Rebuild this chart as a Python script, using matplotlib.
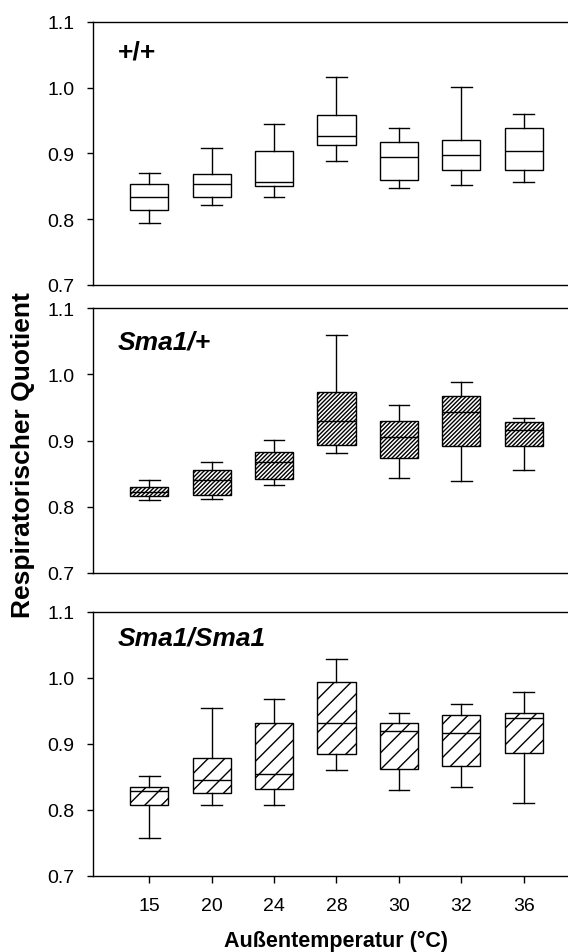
import matplotlib
matplotlib.use("Agg")
import matplotlib.pyplot as plt

plt.rcParams['font.family'] = ['Liberation Sans', 'DejaVu Sans']
plt.rcParams['hatch.linewidth'] = 1.0

temps = ['15', '20', '24', '28', '30', '32', '36']
genotypes = ['+/+', 'Sma1/+', 'Sma1/Sma1']

# wild type +/+
wt_low = [0.794, 0.821, 0.833, 0.889, 0.848, 0.852, 0.856]
wt_q1 = [0.814, 0.834, 0.850, 0.912, 0.859, 0.874, 0.874]
wt_med = [0.834, 0.853, 0.857, 0.926, 0.895, 0.897, 0.904]
wt_q3 = [0.853, 0.868, 0.904, 0.959, 0.918, 0.921, 0.938]
wt_high = [0.870, 0.908, 0.945, 1.016, 0.939, 1.001, 0.960]

# heterozygous Sma1/+
het_low = [0.810, 0.812, 0.832, 0.881, 0.843, 0.838, 0.856]
het_q1 = [0.816, 0.817, 0.842, 0.893, 0.873, 0.892, 0.892]
het_med = [0.822, 0.840, 0.867, 0.929, 0.905, 0.943, 0.916]
het_q3 = [0.829, 0.855, 0.882, 0.973, 0.930, 0.968, 0.928]
het_high = [0.840, 0.868, 0.901, 1.059, 0.953, 0.988, 0.934]

# homozygous Sma1/Sma1
hom_low = [0.758, 0.808, 0.807, 0.860, 0.830, 0.835, 0.811]
hom_q1 = [0.808, 0.826, 0.831, 0.885, 0.862, 0.866, 0.886]
hom_med = [0.828, 0.846, 0.854, 0.931, 0.919, 0.916, 0.939]
hom_q3 = [0.834, 0.878, 0.931, 0.994, 0.931, 0.943, 0.946]
hom_high = [0.852, 0.955, 0.968, 1.029, 0.947, 0.961, 0.979]

data = [
    (wt_low, wt_q1, wt_med, wt_q3, wt_high),
    (het_low, het_q1, het_med, het_q3, het_high),
    (hom_low, hom_q1, hom_med, hom_q3, hom_high),
]
hatches = [None, '////////', '//']
label_pos = [0.886, 0.875, 0.903]

W, H = 568, 953
fig = plt.figure(figsize=(W / 100, H / 100), dpi=100)
left = 92.7 / W
panels = [(22.7, 286.0), (309.3, 573.7), (612.7, 877.0)]

for i, ((top, bot), (lo, q1, med, q3, hi)) in enumerate(zip(panels, data)):
    ax = fig.add_axes([left, 1 - bot / H, 1 - left, (bot - top) / H])
    stats = []
    for j in range(len(temps)):
        stats.append(dict(whislo=lo[j], q1=q1[j], med=med[j], q3=q3[j],
                          whishi=hi[j], fliers=[], label=temps[j]))
    bp = ax.bxp(stats, positions=list(range(len(temps))), widths=0.61,
                patch_artist=True, showfliers=False, manage_ticks=False,
                boxprops=dict(facecolor='white', edgecolor='black', linewidth=1.0),
                medianprops=dict(color='black', linewidth=1.0),
                whiskerprops=dict(color='black', linewidth=1.0),
                capprops=dict(color='black', linewidth=1.0),
                capwidths=0.33)
    if hatches[i]:
        for b in bp['boxes']:
            b.set_hatch(hatches[i])
    ax.set_xlim(-0.907, 6.71)
    ax.set_ylim(0.7, 1.1)
    ax.set_yticks([0.7, 0.8, 0.9, 1.0, 1.1])
    ax.set_yticklabels(['0.7', '0.8', '0.9', '1.0', '1.1'])
    ax.spines['right'].set_visible(False)
    for s in ['left', 'top', 'bottom']:
        ax.spines[s].set_linewidth(1.0)
    ax.tick_params(axis='y', direction='out', length=4, width=1, labelsize=14, pad=9)
    if i < 2:
        ax.tick_params(axis='x', bottom=False, labelbottom=False)
    else:
        ax.set_xticks(range(len(temps)))
        ax.set_xticklabels(temps)
        ax.tick_params(axis='x', direction='out', length=5, width=1, labelsize=14, pad=10)
    style = 'normal' if i == 0 else 'italic'
    ax.text(0.053, label_pos[i], genotypes[i], transform=ax.transAxes,
            fontsize=19, fontweight='bold', fontstyle=style, va='center', ha='left')

fig.text(336 / W, 1 - 941 / H, 'Außentemperatur (°C)', ha='center', va='center',
         fontsize=15.5, fontweight='bold')
fig.text(23.3 / W, 1 - 455 / H, 'Respiratorischer Quotient', ha='center', va='center',
         rotation=90, fontsize=19, fontweight='bold')

fig.savefig('out.png', dpi=100)
